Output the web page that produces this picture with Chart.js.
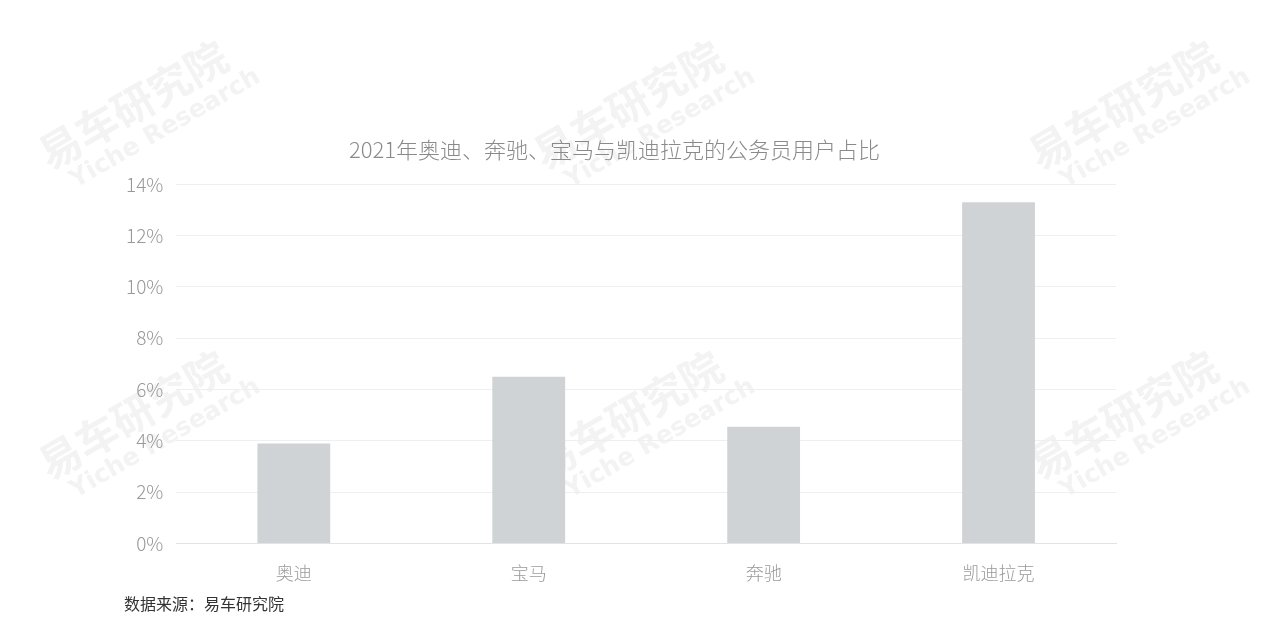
<!DOCTYPE html>
<html>
<head>
<meta charset="utf-8">
<script src="https://cdn.jsdelivr.net/npm/chart.js@4"></script>
<style>
  html, body { margin: 0; padding: 0; background: #fff; }
  #wrap { width: 1269px; height: 622px; }
</style>
</head>
<body>
<div id="wrap"><canvas id="chart"></canvas></div>
<script>
// 数据
const brands = ["奥迪", "宝马", "奔驰", "凯迪拉克"];
const shares = [3.9, 6.5, 4.55, 13.3];
const yMax = 14;
const yStep = 2;

const FONT = "'Noto Sans CJK SC', 'Noto Sans', sans-serif";

// 水印 + 数据来源
const watermark = {
  id: "watermark",
  beforeDraw(chart) {
    const ctx = chart.ctx;
    ctx.save();
    ctx.fillStyle = "#f3f3f3";
    ctx.textAlign = "center";
    ctx.textBaseline = "middle";
    [0, 495, 990].forEach(dx => {
      [0, 310].forEach(dy => {
        ctx.save();
        ctx.translate(133 + dx, 105 + dy);
        ctx.rotate(-30 * Math.PI / 180);
        ctx.font = "bold 42px " + FONT;
        ctx.fillText("易车研究院", 0, 0);
        ctx.font = "bold 25px 'DejaVu Sans', sans-serif";
        ctx.fillText("Yiche Research", 16, 37);
        ctx.restore();
      });
    });
    ctx.restore();
  },
  afterDraw(chart) {
    const ctx = chart.ctx;
    ctx.save();
    ctx.fillStyle = "#333";
    ctx.font = "16px " + FONT;
    ctx.textBaseline = "middle";
    ctx.fillText("数据来源：易车研究院", 124, 604);
    ctx.restore();
  }
};

new Chart(document.getElementById("chart"), {
  type: "bar",
  data: {
    labels: brands,
    datasets: [{
      data: shares,
      backgroundColor: "#d0d3d6",
      categoryPercentage: 1,
      barPercentage: 0.31
    }]
  },
  options: {
    responsive: true,
    maintainAspectRatio: false,
    animation: false,
    layout: { padding: { top: 136, left: 113, right: 153, bottom: 27 } },
    plugins: {
      legend: { display: false },
      tooltip: { enabled: false },
      title: {
        display: true,
        text: "2021年奥迪、奔驰、宝马与凯迪拉克的公务员用户占比",
        color: "#8a8a8a",
        font: { family: FONT, size: 22, weight: "300" },
        padding: { top: 0, bottom: 22 }
      }
    },
    scales: {
      x: {
        grid: { display: false },
        border: { color: "#e3e3e3" },
        ticks: { color: "#999", font: { family: FONT, size: 18, weight: "300" }, padding: 11 }
      },
      y: {
        min: 0,
        max: yMax,
        grid: { color: "#efefef", drawTicks: false },
        border: { display: false },
        ticks: {
          stepSize: yStep,
          color: "#999",
          padding: 13,
          font: { family: FONT, size: 19, weight: "300" },
          callback: v => v + "%"
        }
      }
    }
  },
  plugins: [watermark]
});
</script>
</body>
</html>
